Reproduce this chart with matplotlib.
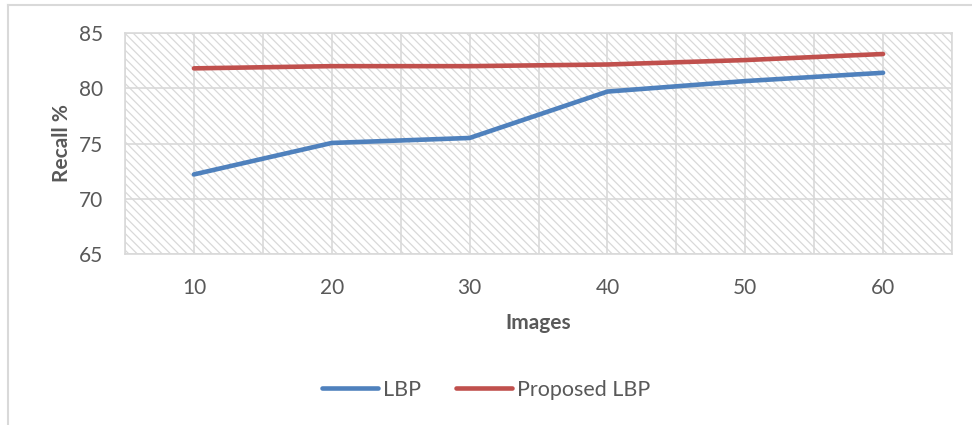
import matplotlib
matplotlib.use('Agg')
import matplotlib.pyplot as plt
from matplotlib.patches import Rectangle
from matplotlib.lines import Line2D

# chart data
images = ['10', '20', '30', '40', '50', '60']
lbp = [72.2, 75.05, 75.5, 79.7, 80.65, 81.4]
proposed_lbp = [81.8, 82.0, 82.0, 82.15, 82.55, 83.1]

plt.rcParams['font.family'] = ['Lato', 'DejaVu Sans']
plt.rcParams['hatch.linewidth'] = 0.9
text_col = '#595959'
grid_col = '#d9d9d9'

fig = plt.figure(figsize=(9.72, 4.25), dpi=100)
ax = fig.add_axes([125 / 972, 1 - 254 / 425, 827 / 972, 221 / 425])

# hatched plot area
bg = Rectangle((0, 0), 1, 1, transform=ax.transAxes, facecolor='white',
               edgecolor='#d9d9d9', hatch='\\\\\\\\', lw=0, zorder=0)
ax.add_patch(bg)

x = list(range(len(images)))
ax.plot(x, lbp, color='#4F81BD', lw=3.3, solid_capstyle='round', label='LBP', zorder=3)
ax.plot(x, proposed_lbp, color='#C0504D', lw=3.3, solid_capstyle='round',
        label='Proposed LBP', zorder=3)

ax.set_xlim(-0.5, len(images) - 0.5)
ax.set_ylim(65, 85)
ax.set_yticks([65, 70, 75, 80, 85])
ax.set_xticks(x)
ax.set_xticklabels(images)
ax.set_xticks([i + 0.5 for i in range(-1, len(images))], minor=True)
ax.grid(True, which='both', color=grid_col, lw=1.2, zorder=1)
ax.set_axisbelow(True)
ax.tick_params(which='both', length=0)
ax.tick_params(axis='x', pad=17, labelsize=15, labelcolor=text_col)
ax.tick_params(axis='y', pad=16, labelsize=15, labelcolor=text_col)
for s in ax.spines.values():
    s.set_color(grid_col)
    s.set_linewidth(1.2)

ax.set_xlabel('Images', fontsize=15, fontweight='bold', color=text_col, labelpad=11)
ax.set_ylabel('Recall %', fontsize=15, fontweight='bold', color=text_col, labelpad=5)

fig.legend(loc='center', bbox_to_anchor=(0.5, 1 - 390 / 425), ncol=2, frameon=False,
           fontsize=15.5, labelcolor=text_col, handlelength=2.6, handletextpad=0.25,
           columnspacing=1.6)

# outer chart frame (cropped)
fig.add_artist(Line2D([8 / 972, 1], [1 - 5 / 425] * 2, color='#d9d9d9', lw=1.5))
fig.add_artist(Line2D([8 / 972] * 2, [0, 1 - 5 / 425], color='#d9d9d9', lw=1.5))

fig.savefig('out.png', dpi=100)
